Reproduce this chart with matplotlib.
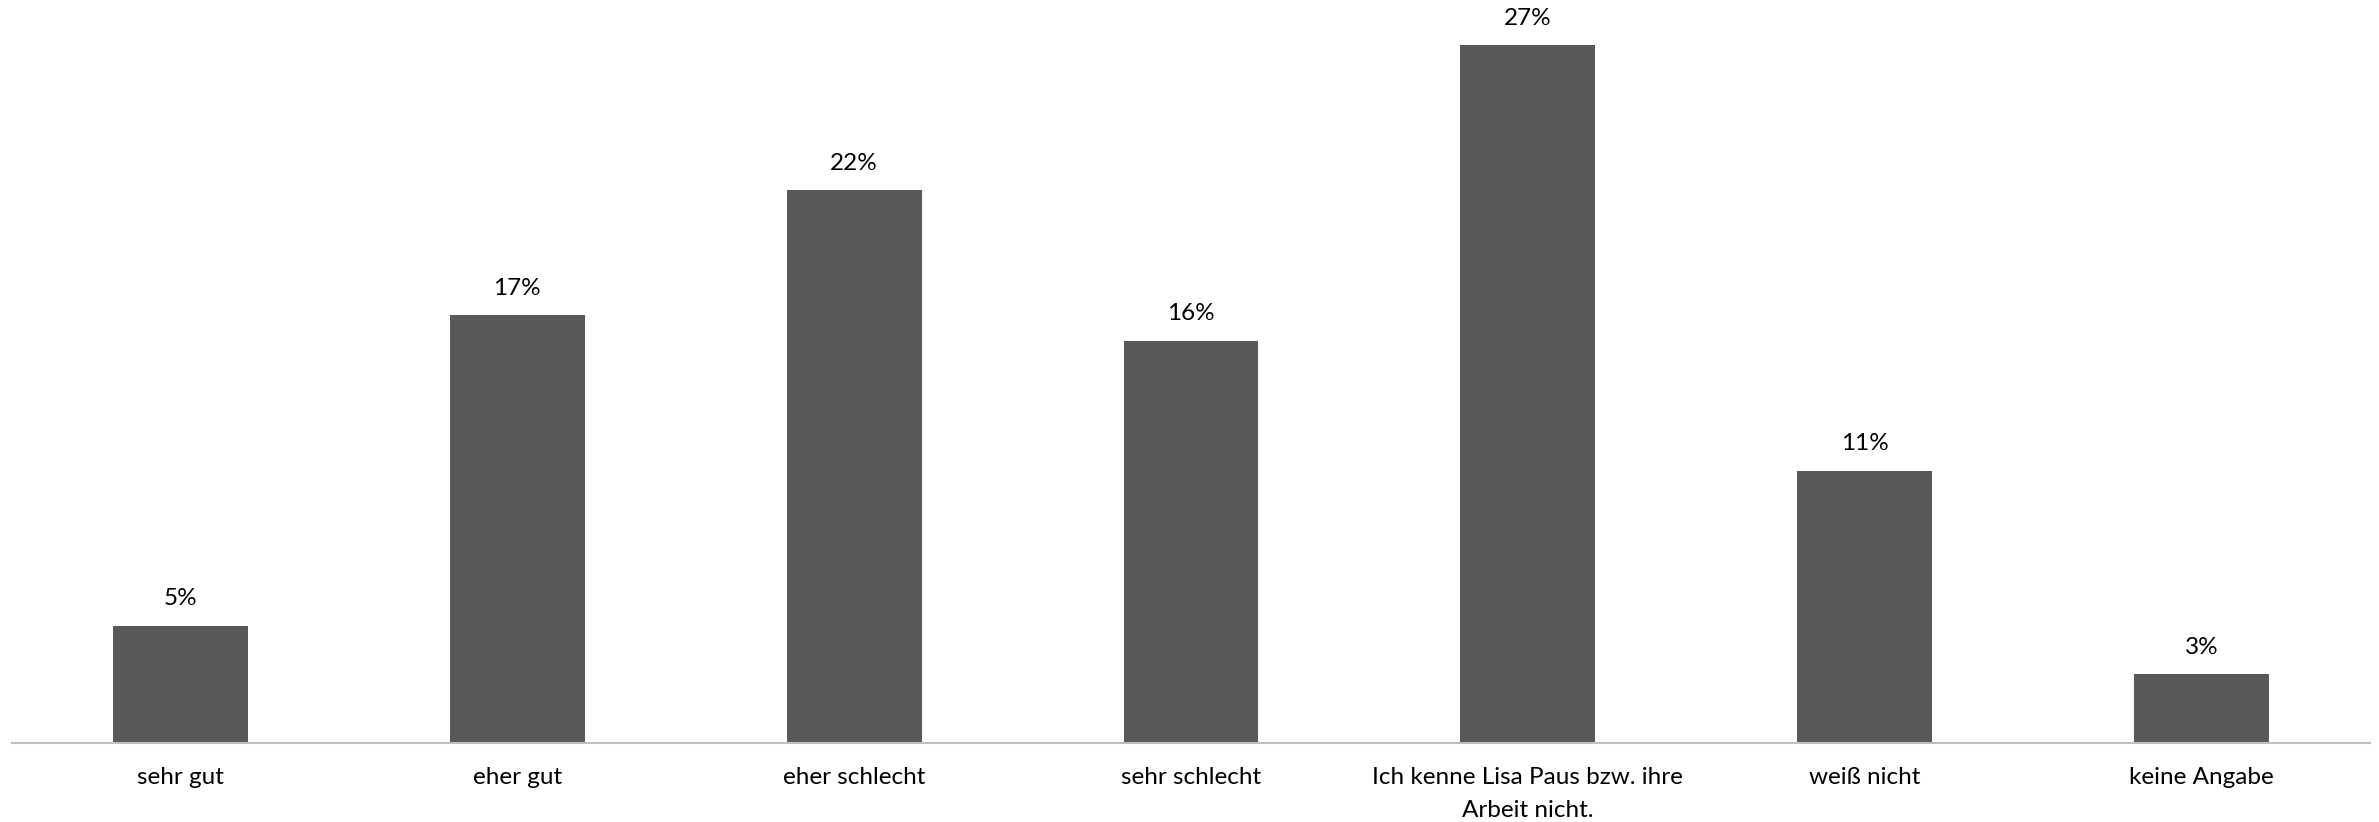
import matplotlib.pyplot as plt

categories = ["sehr gut", "eher gut", "eher schlecht", "sehr schlecht",
              "Ich kenne Lisa Paus bzw. ihre\nArbeit nicht.", "weiß nicht", "keine Angabe"]
values = [4.6, 16.8, 21.7, 15.8, 27.4, 10.7, 2.7]

plt.rcParams['font.family'] = ['Lato', 'DejaVu Sans']

fig = plt.figure(figsize=(23.79, 8.22), dpi=100)
ax = fig.add_axes([12 / 2379, 79 / 822, (2370 - 12) / 2379, (743 - 30) / 822])

x = range(len(categories))
bars = ax.bar(x, values, width=0.4, color="#595959")

for b, v in zip(bars, values):
    ax.annotate(f"{round(v)}%", (b.get_x() + b.get_width() / 2, v),
                xytext=(0, 12), textcoords="offset points",
                ha="center", va="bottom", fontsize=17.5, color="#000000",
                annotation_clip=False)

ax.set_xlim(-0.5, len(categories) - 0.5)
ax.set_ylim(0, 28)
ax.set_xticks(list(x))
ax.set_xticklabels(categories, fontsize=17.5, linespacing=1.7)
ax.tick_params(axis="x", length=0, pad=17)
ax.set_yticks([])
for s in ["top", "right", "left"]:
    ax.spines[s].set_visible(False)
ax.spines["bottom"].set_color("#BFBFBF")
ax.spines["bottom"].set_linewidth(1.5)

fig.savefig("out.png", dpi=100)
